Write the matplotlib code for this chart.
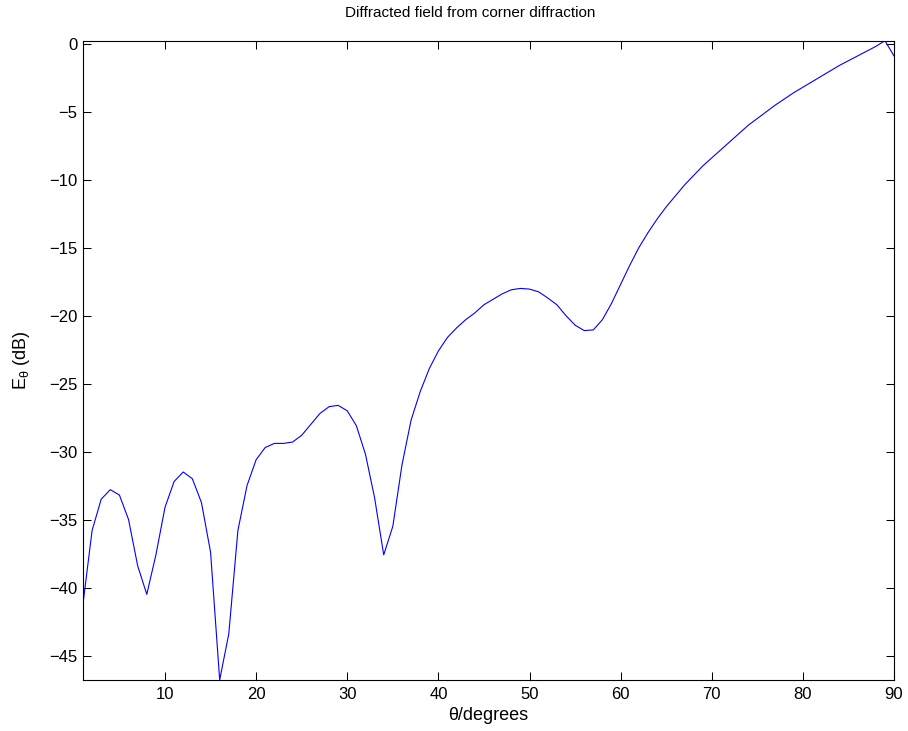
import numpy as np
import matplotlib
matplotlib.use('Agg')
import matplotlib.pyplot as plt

plt.rcParams['font.family'] = ['Liberation Sans', 'DejaVu Sans']

theta = np.arange(1, 91)

# diffracted field (dB), read per degree
e_theta = [
    -41.2, -35.8, -33.5, -32.8, -33.2, -35.0, -38.4, -40.5, -37.6, -34.1,
    -32.2, -31.5, -32.0, -33.75, -37.4, -46.8, -43.4, -35.8, -32.5, -30.6,
    -29.7, -29.4, -29.4, -29.3, -28.8, -28.0, -27.2, -26.7, -26.6, -27.0,
    -28.1, -30.2, -33.4, -37.6, -35.5, -31.0, -27.7, -25.6, -23.9, -22.6,
    -21.6, -20.9, -20.3, -19.8, -19.2, -18.8, -18.4, -18.1, -18.0, -18.05,
    -18.25, -18.7, -19.2, -20.0, -20.7, -21.1, -21.05, -20.3, -19.1, -17.7,
    -16.3, -15.0, -13.9, -12.9, -12.0, -11.2, -10.4, -9.7, -9.0, -8.4,
    -7.8, -7.2, -6.6, -6.0, -5.5, -5.0, -4.5, -4.05, -3.6, -3.2,
    -2.8, -2.4, -2.0, -1.6, -1.25, -0.9, -0.55, -0.2, 0.22, -0.9,
]

xticks = [10, 20, 30, 40, 50, 60, 70, 80, 90]
yticks = [-45, -40, -35, -30, -25, -20, -15, -10, -5, 0]

fig = plt.figure(figsize=(9.08, 7.31), dpi=100)
ax = fig.add_axes([0.0914, 0.0698, 0.8932, 0.8745])

ax.plot(theta, e_theta, color=(0, 0, 1), lw=0.8)

ax.set_xlim(1, 90)
ax.set_ylim(min(e_theta), max(e_theta))
ax.set_xticks(xticks)
ax.set_yticks(yticks)
ax.tick_params(direction='in', length=5.5, width=0.75, labelsize=12,
               top=True, right=True)
ax.tick_params(axis='x', pad=5)
ax.tick_params(axis='y', pad=4)
for s in ax.spines.values():
    s.set_linewidth(0.8)

ax.set_title('Diffracted field from corner diffraction', fontsize=11, pad=17,
             x=0.477)
ax.set_xlabel('\u03b8/degrees', fontsize=13, labelpad=4)
ax.set_ylabel('E$_\\mathregular{\u03b8}$ (dB)', fontsize=13, labelpad=12)

fig.savefig('out.png', dpi=100)
